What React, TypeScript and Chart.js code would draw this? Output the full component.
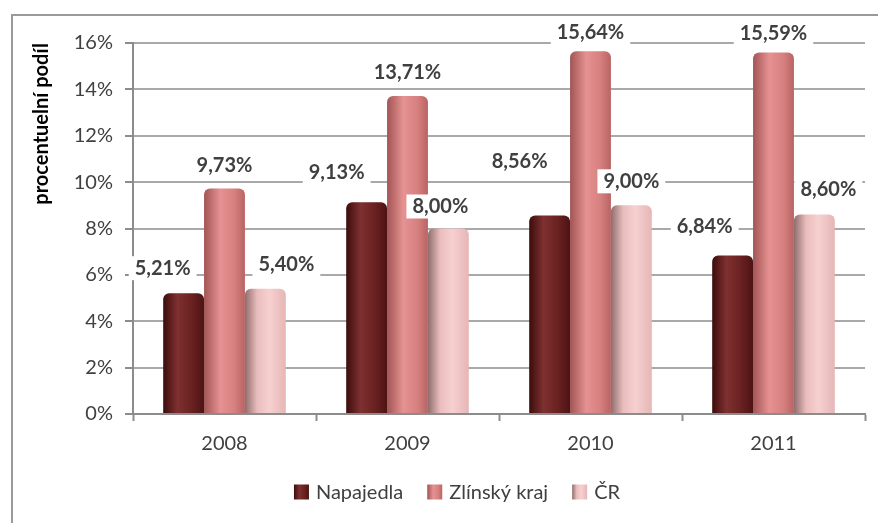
import React, { useEffect, useRef } from "react";
import { Chart, registerables } from "chart.js";

Chart.register(...registerables);

// ---- data ----
const years = ["2008", "2009", "2010", "2011"];
const napajedla = [5.21, 9.13, 8.56, 6.84];
const zlinskyKraj = [9.73, 13.71, 15.64, 15.59];
const cr = [5.4, 8.0, 9.0, 8.6];
const seriesNames = ["Napajedla", "Zlínský kraj", "ČR"];
const yMin = 0;
const yMax = 16;
const yStep = 2;
const axisTitle = "procentuelní podíl";

// ---- styling (label nudges relative to bar tops, per series / per year) ----
const labelDx = [
  [-21, -30, -30, -28],
  [0, 0, 0, 0],
  [21, -8, 0, 14],
];
const labelDy = [
  [-25, -30, -54, -29],
  [-23, -24, -19, -19],
  [-24, -22, -24, -25],
];
const cylinderStops: [number, string][][] = [
  [
    [0, "#3c0c0c"],
    [0.35, "#7f3030"],
    [0.7, "#6a2121"],
    [1, "#4c1313"],
  ],
  [
    [0, "#a25454"],
    [0.4, "#e69292"],
    [0.75, "#d67f7f"],
    [1, "#b86464"],
  ],
  [
    [0, "#8f6d6d"],
    [0.3, "#ebbdbd"],
    [0.6, "#f6d0d0"],
    [1, "#e6b6b6"],
  ],
];
const flatColors = ["#6e2323", "#d98585", "#f0c3c3"];
const FONT = "Lato, 'Open Sans', 'DejaVu Sans', sans-serif";
const TEXT = "#404040";
const GRID = "#a9a9a9";
const FS = 20;

function makeGradient(ctx: CanvasRenderingContext2D, left: number, width: number, idx: number) {
  const g = ctx.createLinearGradient(left, 0, left + width, 0);
  cylinderStops[idx].forEach(([o, c]) => g.addColorStop(o, c));
  return g;
}

const frame = {
  id: "frame",
  beforeDraw(chart: any) {
    const ctx = chart.ctx as CanvasRenderingContext2D;
    ctx.save();
    ctx.fillStyle = "#ffffff";
    ctx.fillRect(0, 0, chart.width, chart.height);
    ctx.strokeStyle = "#9a9a9a";
    ctx.lineWidth = 2;
    ctx.strokeRect(12, 15, chart.width + 40, chart.height + 40);
    ctx.restore();
  },
};

const cylinders = {
  id: "cylinders",
  beforeDatasetsDraw(chart: any) {
    const ctx = chart.ctx as CanvasRenderingContext2D;
    chart.data.datasets.forEach((_: any, i: number) => {
      const meta = chart.getDatasetMeta(i);
      meta.data.forEach((el: any) => {
        const left = el.x - el.width / 2;
        el.options = Object.assign({}, el.options, {
          backgroundColor: makeGradient(ctx, left, el.width, i),
        });
      });
    });
  },
};

const valueLabels = {
  id: "valueLabels",
  afterDatasetsDraw(chart: any) {
    const ctx = chart.ctx as CanvasRenderingContext2D;
    ctx.save();
    ctx.font = `bold ${FS}px ${FONT}`;
    ctx.textAlign = "center";
    ctx.textBaseline = "middle";
    chart.data.datasets.forEach((ds: any, i: number) => {
      const meta = chart.getDatasetMeta(i);
      meta.data.forEach((el: any, j: number) => {
        const v = ds.data[j] as number;
        const text = v.toFixed(2).replace(".", ",") + "%";
        const x = el.x + labelDx[i][j];
        const y = el.y + labelDy[i][j];
        const w = ctx.measureText(text).width;
        ctx.fillStyle = "#ffffff";
        ctx.fillRect(x - w / 2 - 6, y - 12, w + 12, 24);
        ctx.fillStyle = TEXT;
        ctx.fillText(text, x, y);
      });
    });
    ctx.restore();
  },
};

const customLegend = {
  id: "customLegend",
  afterDraw(chart: any) {
    const ctx = chart.ctx as CanvasRenderingContext2D;
    ctx.save();
    ctx.font = `${FS}px ${FONT}`;
    ctx.textBaseline = "middle";
    const box = 15;
    const gapBoxText = 7;
    const gapItems = 24;
    const widths = seriesNames.map((n) => box + gapBoxText + ctx.measureText(n).width);
    const total = widths.reduce((a, b) => a + b, 0) + gapItems * (seriesNames.length - 1);
    const cx = 457;
    const cy = 492;
    let x = cx - total / 2;
    seriesNames.forEach((n, i) => {
      ctx.fillStyle = makeGradient(ctx, x, box, i);
      ctx.fillRect(x, cy - box / 2, box, box);
      ctx.fillStyle = TEXT;
      ctx.textAlign = "left";
      ctx.fillText(n, x + box + gapBoxText, cy + 1);
      x += widths[i] + gapItems;
    });
    ctx.restore();
  },
};

export default function App() {
  const ref = useRef<HTMLCanvasElement | null>(null);

  useEffect(() => {
    if (!ref.current) return;
    const series = [napajedla, zlinskyKraj, cr];
    const chart = new Chart(ref.current, {
      type: "bar",
      data: {
        labels: years,
        datasets: series.map((d, i) => ({
          label: seriesNames[i],
          data: d,
          backgroundColor: (c: any) => flatColors[c.datasetIndex],
          borderWidth: 0,
          borderRadius: { topLeft: 6, topRight: 6, bottomLeft: 0, bottomRight: 0 },
          borderSkipped: "bottom",
          categoryPercentage: 0.67,
          barPercentage: 1.0,
        })),
      },
      options: {
        responsive: false,
        animation: false,
        devicePixelRatio: 1,
        layout: { padding: { left: 30, top: 43, right: 13, bottom: 59 } },
        plugins: {
          legend: { display: false },
          tooltip: { enabled: false },
        },
        scales: {
          x: {
            offset: true,
            grid: {
              offset: true,
              drawOnChartArea: false,
              drawTicks: true,
              tickLength: 7,
              tickColor: "#8c8c8c",
              tickWidth: 2,
            },
            border: { color: "#8c8c8c", width: 2 },
            ticks: {
              color: TEXT,
              font: { family: FONT, size: FS },
              padding: 11,
            },
            afterFit: (s: any) => {
              s.height = 50;
            },
          },
          y: {
            min: yMin,
            max: yMax,
            grid: {
              color: GRID,
              lineWidth: 2,
              tickLength: 8,
              tickColor: "#8c8c8c",
              tickWidth: 2,
            },
            border: { color: "#8c8c8c", width: 2 },
            ticks: {
              stepSize: yStep,
              color: TEXT,
              font: { family: FONT, size: FS },
              padding: 12,
              callback: (v: any) => `${v}%`,
            },
            title: {
              display: true,
              text: axisTitle,
              align: "end",
              color: "#000000",
              font: { family: FONT, size: FS, weight: "bold" },
              padding: { top: 0, bottom: 0 },
            },
            afterFit: (s: any) => {
              s.width = 103;
            },
          },
        },
      },
      plugins: [frame, cylinders, valueLabels, customLegend],
    } as any);
    return () => chart.destroy();
  }, []);

  return (
    <div style={{ position: "absolute", left: 0, top: 0, width: 878, height: 523 }}>
      <canvas ref={ref} width={878} height={523} />
    </div>
  );
}
